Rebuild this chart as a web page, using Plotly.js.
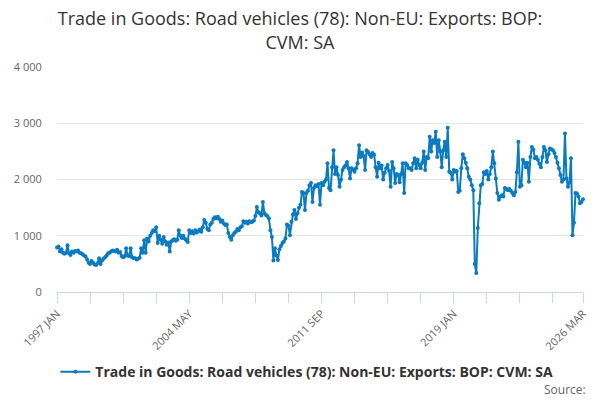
<!DOCTYPE html>
<html>
<head>
<meta charset="utf-8">
<script src="https://cdn.plot.ly/plotly-3.0.1.min.js"></script>
<style>
  html, body { margin: 0; padding: 0; background: #fff; }
  #chart { width: 600px; height: 400px; }
</style>
</head>
<body>
<div id="chart"></div>
<script>
// monthly values, Jan 1997 .. Mar 2026
const startYear = 1997;
const monthNames = ['JAN', 'FEB', 'MAR', 'APR', 'MAY', 'JUN', 'JUL', 'AUG', 'SEP', 'OCT', 'NOV', 'DEC'];

const v1997 = [790, 810, 720, 760, 700, 680, 700, 830, 690, 660, 720, 700];
const v1998 = [730, 720, 740, 700, 690, 670, 650, 630, 580, 520, 500, 550];
const v1999 = [520, 490, 480, 510, 600, 500, 560, 590, 620, 650, 690, 700];
const v2000 = [720, 740, 730, 720, 750, 700, 710, 640, 620, 630, 780, 650];
const v2001 = [640, 780, 620, 600, 600, 580, 590, 610, 780, 700, 920, 700];
const v2002 = [950, 900, 1000, 1050, 1100, 1080, 1150, 870, 1000, 930, 860, 980];
const v2003 = [900, 840, 880, 720, 900, 920, 940, 910, 930, 1100, 1000, 960];
const v2004 = [1000, 950, 920, 890, 1100, 1050, 1080, 1040, 1100, 1060, 1080, 1110];
const v2005 = [1070, 1150, 1280, 1230, 1120, 1100, 1200, 1230, 1300, 1330, 1310, 1340];
const v2006 = [1300, 1250, 1270, 1220, 1190, 1200, 1050, 980, 930, 1010, 1050, 1070];
const v2007 = [1120, 1100, 1150, 1170, 1260, 1230, 1250, 1220, 1260, 1240, 1250, 1270];
const v2008 = [1350, 1510, 1420, 1400, 1360, 1600, 1400, 1370, 1350, 1310, 1100, 980];
const v2009 = [560, 780, 650, 570, 760, 820, 870, 900, 950, 1200, 1180, 1010];
const v2010 = [1250, 1380, 1460, 1300, 1400, 1500, 1550, 1780, 1760, 1460, 1760, 1800];
const v2011 = [1900, 1940, 1600, 1850, 1900, 1880, 1920, 1550, 1940, 1900, 1960, 2000];
const v2012 = [2290, 1850, 1810, 2220, 2520, 2100, 2220, 2080, 1870, 2000, 2170, 2220];
const v2013 = [2250, 2310, 2200, 2020, 2200, 2180, 2140, 2200, 2290, 2610, 2400, 2480];
const v2014 = [2420, 2170, 2520, 2490, 2450, 2400, 2470, 2440, 2220, 2050, 2300, 2200];
const v2015 = [2250, 2000, 2120, 2200, 2260, 2150, 1870, 2310, 2200, 1940, 2100, 2080];
const v2016 = [1950, 2100, 2290, 1760, 2290, 2260, 2200, 2200, 2170, 2290, 2380, 2200];
const v2017 = [2350, 2260, 2200, 2300, 2500, 2170, 2400, 2380, 2760, 2500, 2700, 2650];
const v2018 = [2850, 2400, 2700, 2500, 2220, 2520, 2670, 2400, 2920, 2140, 2120, 2000];
const v2019 = [2170, 2140, 2150, 1780, 1800, 2200, 2450, 2380, 2300, 2200, 2050, 2000];
const v2020 = [1900, 1810, 500, 340, 1140, 1580, 1900, 1920, 2130, 2100, 2150, 2000];
const v2021 = [2100, 2220, 2500, 2290, 2020, 1760, 1640, 1700, 1720, 1700, 1850, 1830];
const v2022 = [1810, 1830, 1800, 1760, 1720, 1780, 2130, 2670, 1870, 1900, 2350, 2300];
const v2023 = [2220, 2300, 1960, 2400, 2580, 2530, 2380, 2400, 2350, 2280, 2220, 2400];
const v2024 = [2580, 2520, 2310, 2450, 2550, 2540, 2520, 2470, 2400, 2300, 2200, 2080];
const v2025 = [1960, 2000, 2820, 2020, 1870, 1950, 2380, 1010, 1230, 1760, 1750, 1700];
const v2026 = [1580, 1600, 1650];

const yearly = [v1997, v1998, v1999, v2000, v2001, v2002, v2003, v2004, v2005, v2006,
  v2007, v2008, v2009, v2010, v2011, v2012, v2013, v2014, v2015, v2016,
  v2017, v2018, v2019, v2020, v2021, v2022, v2023, v2024, v2025, v2026];

const seriesName = 'Trade in Goods: Road vehicles (78): Non-EU: Exports: BOP: CVM: SA';
const labelEvery = 88;   // labelled ticks
const tickEvery = 22;    // minor ticks

let cats = [];
let vals = [];
yearly.forEach((arr, yi) => {
    arr.forEach((v, mi) => {
        cats.push((startYear + yi) + ' ' + monthNames[mi]);
        vals.push(v);
    });
});

const last = cats.length - 1;
let tickvals = [];
let ticktext = [];
for (let i = 0; i < last; i += tickEvery) {
    tickvals.push(cats[i]);
    ticktext.push(i % labelEvery === 0 ? cats[i] : '');
}
tickvals.push(cats[last]);
ticktext.push(cats[last]);

const trace = {
    x: cats,
    y: vals,
    type: 'scatter',
    mode: 'lines+markers',
    name: seriesName,
    line: { color: '#0a7bc1', width: 2 },
    marker: { color: '#0a7bc1', size: 4 },
    cliponaxis: false
};

const layout = {
    width: 600,
    height: 400,
    paper_bgcolor: '#fff',
    plot_bgcolor: '#fff',
    separators: '. ',
    font: { family: '"Open Sans", "Liberation Sans", sans-serif', color: '#666' },
    margin: { l: 57, r: 17, t: 67, b: 108 },
    title: {
        text: 'Trade in Goods: Road vehicles (78): Non-EU: Exports: BOP:<br>CVM: SA',
        x: 0.5, xanchor: 'center',
        y: 0.937, yanchor: 'top', yref: 'container',
        font: { size: 18, color: '#333' }
    },
    xaxis: {
        type: 'category',
        range: [0, last],
        tickvals: tickvals,
        ticktext: ticktext,
        tickangle: -45,
        ticks: 'outside',
        ticklen: 10,
        tickcolor: '#ccd6eb',
        showline: true,
        linecolor: '#ccd6eb',
        showgrid: false,
        tickfont: { size: 11, color: '#666' }
    },
    yaxis: {
        range: [0, 4000],
        tickvals: [0, 1000, 2000, 3000, 4000],
        tickformat: ',d',
        gridcolor: '#e6e6e6',
        zeroline: false,
        ticks: 'outside',
        ticklen: 12,
        tickcolor: 'rgba(0,0,0,0)',
        tickfont: { size: 11, color: '#666' }
    },
    showlegend: true,
    legend: {
        orientation: 'h',
        x: 0.475, xanchor: 'center',
        y: -0.356, yanchor: 'middle',
        itemwidth: 30,
        font: { size: 14, color: '#333', weight: 'bold' }
    },
    annotations: [{
        text: 'Source:',
        xref: 'paper', yref: 'paper',
        x: 1.01, xanchor: 'right',
        y: -0.435, yanchor: 'middle',
        showarrow: false,
        font: { size: 12, color: '#666' }
    }]
};

Plotly.newPlot('chart', [trace], layout, { displayModeBar: false, staticPlot: true });
</script>
</body>
</html>
